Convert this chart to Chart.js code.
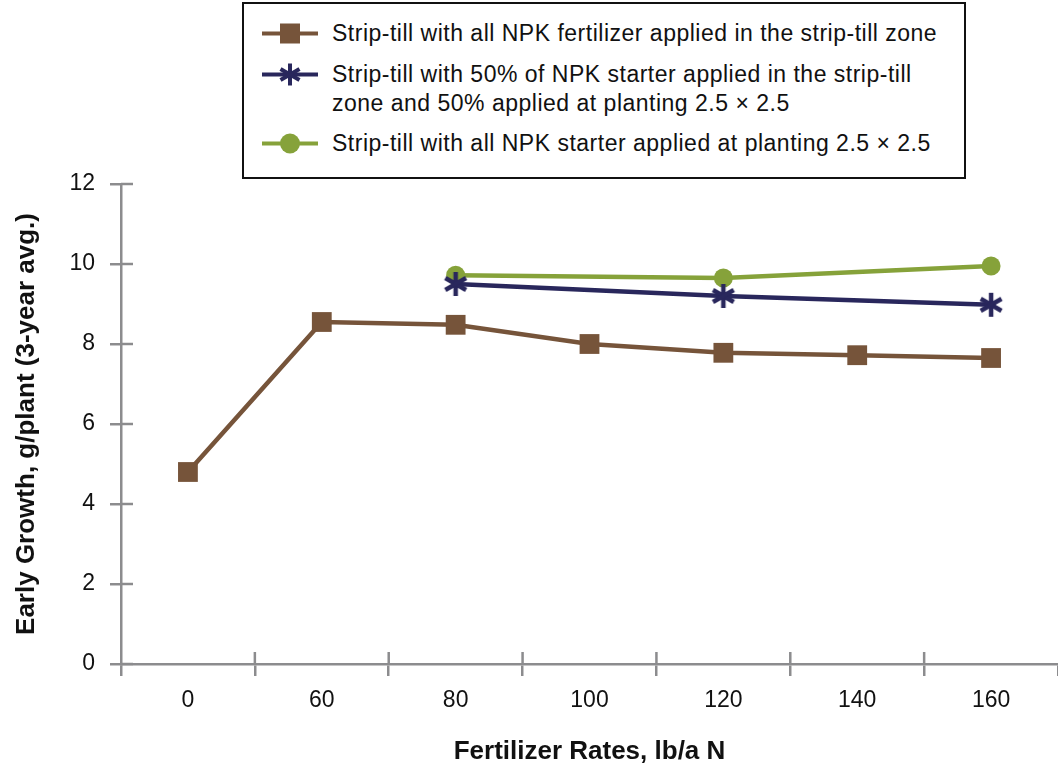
<!DOCTYPE html>
<html lang="en">
<head>
  <meta charset="UTF-8">
  <title>Early Growth vs Fertilizer Rates</title>
  <script src="https://cdn.jsdelivr.net/npm/chart.js"></script>
  <style>
    body { margin: 0; background: #fff; font-family: "Liberation Sans", Arial, sans-serif; overflow: hidden; }
    .wrap { position: relative; width: 1058px; height: 770px; }
    .legend {
      position: absolute; left: 242px; top: 2px; width: 720px; height: 173px;
      border: 2px solid #111; background: #fff; box-sizing: content-box;
    }
    .item { position: absolute; left: 18px; display: flex; align-items: flex-start; }
    .item svg { flex: none; margin-top: 0; }
    .item span { font-size: 23px; letter-spacing: 0.5px; line-height: 29px; color: #111; margin-left: 14px; white-space: nowrap; }
  </style>
</head>
<body>

<div class="wrap">
  <canvas id="grafik"></canvas>
  <div class="legend">
    <div class="item" style="top:15px">
      <svg width="56" height="29"><line x1="0" y1="14.5" x2="56" y2="14.5" stroke="#76543a" stroke-width="4"/><rect x="18" y="4.5" width="20" height="20" fill="#76543a"/></svg>
      <span id="lg0"></span>
    </div>
    <div class="item" style="top:56px">
      <svg width="56" height="29"><line x1="0" y1="14.5" x2="56" y2="14.5" stroke="#29275c" stroke-width="4"/>
        <g stroke="#29275c" stroke-width="4"><line x1="28" y1="3.5" x2="28" y2="25.5"/><line x1="18.5" y1="9" x2="37.5" y2="20"/><line x1="18.5" y1="20" x2="37.5" y2="9"/></g></svg>
      <span id="lg1"></span>
    </div>
    <div class="item" style="top:125px">
      <svg width="56" height="29"><line x1="0" y1="14.5" x2="56" y2="14.5" stroke="#86a23a" stroke-width="4"/><circle cx="28" cy="14.5" r="10" fill="#86a23a"/></svg>
      <span id="lg2"></span>
    </div>
  </div>
</div>

<script>
  // data
  const kategori = ['0', '60', '80', '100', '120', '140', '160'];
  const semuaDiZona = [4.8, 8.55, 8.48, 8.0, 7.78, 7.72, 7.65];
  const setengahSetengah = [null, null, 9.5, null, 9.2, null, 8.98];
  const semuaSaatTanam = [null, null, 9.72, null, 9.65, null, 9.95];
  const namaSeri = [
    'Strip-till with all NPK fertilizer applied in the strip-till zone',
    'Strip-till with 50% of NPK starter applied in the strip-till zone and 50% applied at planting 2.5 \u00d7 2.5',
    'Strip-till with all NPK starter applied at planting 2.5 \u00d7 2.5'
  ];
  const yTicks = [0, 2, 4, 6, 8, 10, 12];

  document.getElementById('lg0').textContent = namaSeri[0];
  document.getElementById('lg1').innerHTML = 'Strip-till with 50% of NPK starter applied in the strip-till<br>zone and 50% applied at planting 2.5 \u00d7 2.5';
  document.getElementById('lg2').textContent = namaSeri[2];

  const warnaSumbu = '#8c8c8e';
  const teks = '#111';

  // bintang 6 lengan buat marker seri kedua
  function bikinBintang() {
    const c = document.createElement('canvas');
    c.width = 28; c.height = 28;
    const g = c.getContext('2d');
    g.strokeStyle = '#29275c';
    g.lineWidth = 4.5;
    const r = 12;
    [90, 30, 150].forEach(a => {
      const rad = a * Math.PI / 180;
      g.beginPath();
      g.moveTo(14 - r * Math.cos(rad), 14 - r * Math.sin(rad));
      g.lineTo(14 + r * Math.cos(rad), 14 + r * Math.sin(rad));
      g.stroke();
    });
    return c;
  }

  // tick yang nyebrang sumbu (bagian dalam)
  const tickDalam = {
    id: 'tickDalam',
    afterDraw(chart) {
      const ctx = chart.ctx;
      const sx = chart.scales.x, sy = chart.scales.y;
      ctx.save();
      ctx.strokeStyle = warnaSumbu;
      ctx.lineWidth = 2.5;
      sy.ticks.forEach((t, i) => {
        const y = sy.getPixelForTick(i);
        ctx.beginPath(); ctx.moveTo(sx.left, y); ctx.lineTo(sx.left + 12, y); ctx.stroke();
      });
      const w = sx.getPixelForTick(1) - sx.getPixelForTick(0);
      for (let i = 1; i < kategori.length; i++) {
        const x = sx.getPixelForTick(i) - w / 2;
        ctx.beginPath(); ctx.moveTo(x, sy.bottom); ctx.lineTo(x, sy.bottom - 12); ctx.stroke();
      }
      ctx.restore();
    }
  };

  new Chart(document.getElementById('grafik'), {
    type: 'line',
    data: {
      labels: kategori,
      datasets: [
        {
          label: namaSeri[0],
          data: semuaDiZona,
          borderColor: '#76543a',
          backgroundColor: '#76543a',
          borderWidth: 4.5,
          pointStyle: 'rect',
          pointRadius: 14,
          pointBorderWidth: 0,
          tension: 0
        },
        {
          label: namaSeri[1],
          data: setengahSetengah,
          borderColor: '#29275c',
          backgroundColor: '#29275c',
          borderWidth: 4.5,
          pointStyle: bikinBintang(),
          spanGaps: true,
          tension: 0
        },
        {
          label: namaSeri[2],
          data: semuaSaatTanam,
          borderColor: '#86a23a',
          backgroundColor: '#86a23a',
          borderWidth: 4.5,
          pointStyle: 'circle',
          pointRadius: 9.5,
          pointBorderWidth: 0,
          spanGaps: true,
          tension: 0
        }
      ]
    },
    options: {
      responsive: true,
      maintainAspectRatio: false,
      animation: false,
      layout: { autoPadding: false, padding: { top: 184, right: 0, left: 0, bottom: 0 } },
      plugins: {
        legend: { display: false },
        tooltip: { enabled: false }
      },
      scales: {
        x: {
          type: 'category',
          offset: true,
          afterFit: s => { s.height = 106; s.paddingRight = 0; s.paddingLeft = 0; },
          border: { color: warnaSumbu, width: 2.5 },
          grid: { offset: true, drawOnChartArea: false, color: warnaSumbu, lineWidth: 2.5, tickLength: 12 },
          ticks: { color: teks, padding: 11, font: { family: 'Liberation Sans', size: 23 } },
          title: {
            display: true,
            text: 'Fertilizer Rates, lb/a N',
            color: teks,
            font: { family: 'Liberation Sans', size: 26, weight: 'bold' },
            padding: { top: 0, bottom: 3 }
          }
        },
        y: {
          min: 0,
          max: 12,
          afterFit: s => { s.width = 121; },
          afterBuildTicks: s => { s.ticks = yTicks.map(v => ({ value: v })); },
          border: { color: warnaSumbu, width: 2.5 },
          grid: { drawOnChartArea: false, color: warnaSumbu, lineWidth: 2.5, tickLength: 11 },
          ticks: { color: teks, padding: 15, font: { family: 'Liberation Sans', size: 23 } },
          title: {
            display: true,
            text: 'Early Growth, g/plant (3-year avg.)',
            color: teks,
            font: { family: 'Liberation Sans', size: 26, weight: 'bold' },
            padding: { top: 11, bottom: 0 }
          }
        }
      }
    },
    plugins: [tickDalam]
  });
</script>

</body>
</html>
